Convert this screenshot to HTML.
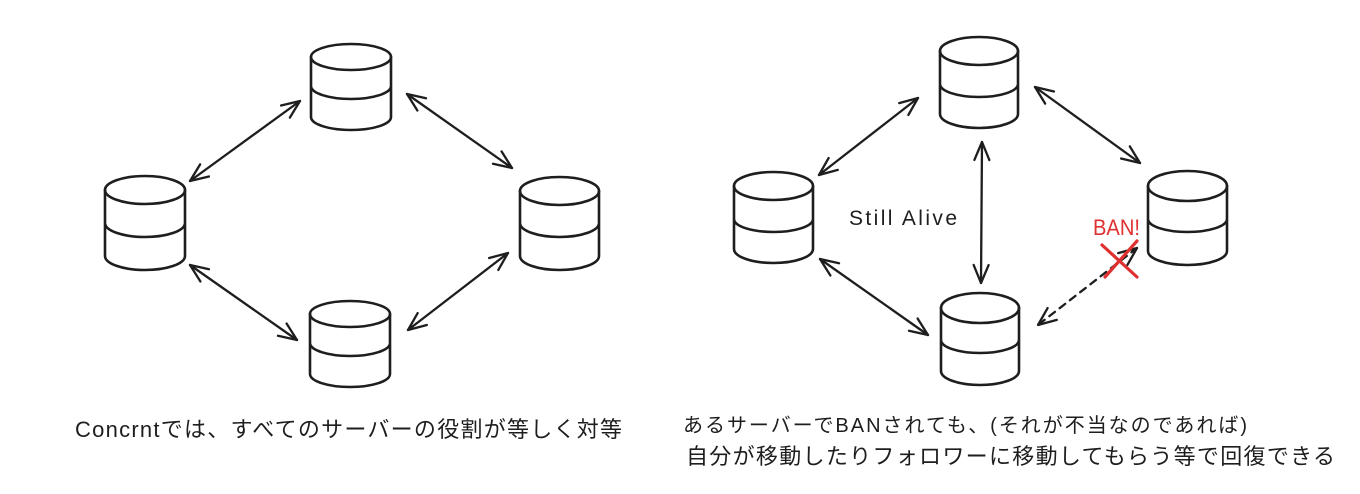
<!DOCTYPE html>
<html><head><meta charset="utf-8"><style>
html,body{margin:0;padding:0;background:#fff;}
svg{display:block;}
text{font-family:"Liberation Sans","Noto Sans CJK JP",sans-serif;fill:#1e1e1e;}
</style></head><body>
<svg width="1360" height="494" viewBox="0 0 1360 494" xmlns="http://www.w3.org/2000/svg">
<defs>
<marker id="ah" viewBox="0 0 22 22" markerWidth="22" markerHeight="22" refX="20" refY="11" markerUnits="userSpaceOnUse" orient="auto-start-reverse">
<path d="M2,3.5 L20,11 L2,18.5" fill="none" stroke="#1e1e1e" stroke-width="2.3" stroke-linecap="round" stroke-linejoin="round" stroke-dasharray="none"/>
</marker>
</defs>
<rect width="1360" height="494" fill="#fff"/>
<g fill="none" stroke="#1e1e1e" stroke-width="2.6" stroke-linecap="round">
<ellipse cx="351" cy="57" rx="40" ry="13"/>
<path d="M311,57 V117 M391,57 V117 M311,86 A40,13 0 0 0 391,86 M311,117 A40,13 0 0 0 391,117"/>
<ellipse cx="145" cy="190" rx="40" ry="14"/>
<path d="M105,190 V256 M185,190 V256 M105,223 A40,14 0 0 0 185,223 M105,256 A40,14 0 0 0 185,256"/>
<ellipse cx="559.5" cy="191" rx="39.5" ry="14"/>
<path d="M520,191 V256 M599,191 V256 M520,223 A39.5,14 0 0 0 599,223 M520,256 A39.5,14 0 0 0 599,256"/>
<ellipse cx="350" cy="314" rx="40" ry="13"/>
<path d="M310,314 V374 M390,314 V374 M310,343 A40,13 0 0 0 390,343 M310,374 A40,13 0 0 0 390,374"/>
<ellipse cx="979" cy="51" rx="39" ry="14"/>
<path d="M940,51 V114 M1018,51 V114 M940,84 A39,13 0 0 0 1018,84 M940,114 A39,14 0 0 0 1018,114"/>
<ellipse cx="773.5" cy="186" rx="39.5" ry="14"/>
<path d="M734,186 V249 M813,186 V249 M734,219 A39.5,13 0 0 0 813,219 M734,249 A39.5,14 0 0 0 813,249"/>
<ellipse cx="1187.5" cy="186" rx="39.5" ry="15"/>
<path d="M1148,186 V251 M1227,186 V251 M1148,219 A39.5,13 0 0 0 1227,219 M1148,251 A39.5,14 0 0 0 1227,251"/>
<ellipse cx="980" cy="308" rx="39" ry="15"/>
<path d="M941,308 V371 M1019,308 V371 M941,340 A39,13 0 0 0 1019,340 M941,371 A39,14 0 0 0 1019,371"/>
</g>
<g fill="none" stroke="#1e1e1e" stroke-width="2.3" stroke-linecap="round">
<line x1="190" y1="181" x2="300" y2="101" marker-start="url(#ah)" marker-end="url(#ah)"/>
<line x1="407" y1="94" x2="512" y2="168" marker-start="url(#ah)" marker-end="url(#ah)"/>
<line x1="508" y1="253" x2="408" y2="330" marker-start="url(#ah)" marker-end="url(#ah)"/>
<line x1="190" y1="265" x2="297" y2="340" marker-start="url(#ah)" marker-end="url(#ah)"/>
<line x1="918" y1="98" x2="819" y2="175" marker-start="url(#ah)" marker-end="url(#ah)"/>
<line x1="1035" y1="87" x2="1140" y2="163" marker-start="url(#ah)" marker-end="url(#ah)"/>
<line x1="982" y1="142" x2="981" y2="283" marker-start="url(#ah)" marker-end="url(#ah)"/>
<line x1="820" y1="259" x2="928" y2="335" marker-start="url(#ah)" marker-end="url(#ah)"/>
<line x1="1137" y1="248" x2="1038" y2="325" stroke-dasharray="7,6" marker-start="url(#ah)" marker-end="url(#ah)"/>
</g>
<g stroke="#e03131" stroke-width="3.2" stroke-linecap="round">
<line x1="1102" y1="245" x2="1137" y2="277"/>
<line x1="1137" y1="241" x2="1105" y2="277"/>
</g>
<text x="1093" y="235" font-size="22" textLength="47" lengthAdjust="spacingAndGlyphs" style="fill:#e03131">BAN!</text>
<text x="849" y="225" font-size="21" textLength="108" lengthAdjust="spacing">Still Alive</text>
<text x="75" y="437" font-size="22" textLength="547" lengthAdjust="spacing">Concrntでは、すべてのサーバーの役割が等しく対等</text>
<text x="683" y="432" font-size="20" textLength="564" lengthAdjust="spacing">あるサーバーでBANされても、(それが不当なのであれば)</text>
<text x="686" y="464" font-size="22" textLength="649" lengthAdjust="spacing">自分が移動したりフォロワーに移動してもらう等で回復できる</text>
</svg>
</body></html>
